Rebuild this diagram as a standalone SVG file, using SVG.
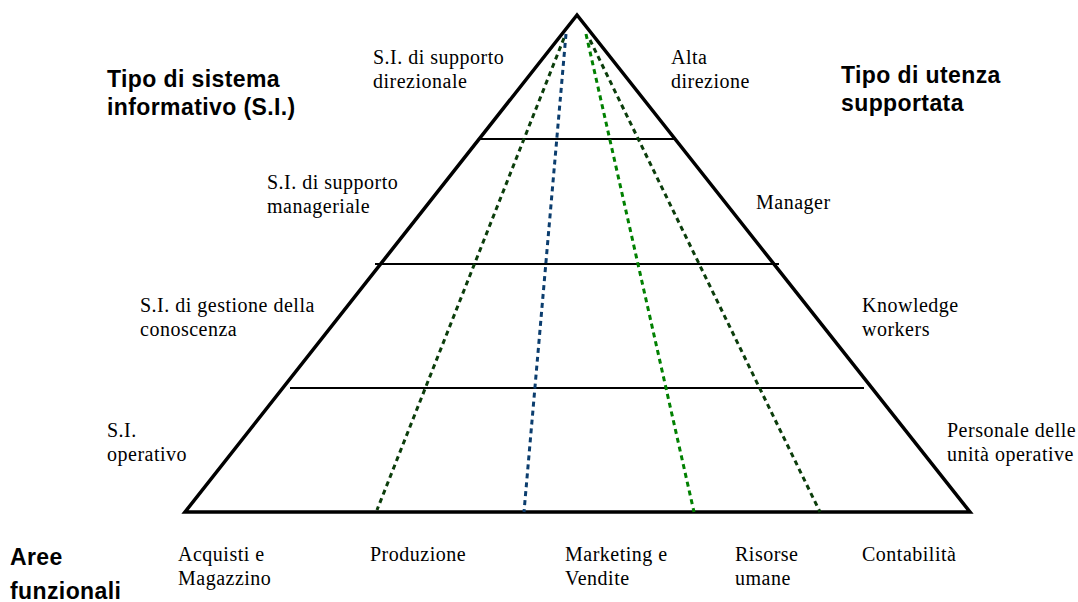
<svg xmlns="http://www.w3.org/2000/svg" width="1078" height="602" viewBox="0 0 1078 602">
<style>
.s{font-family:"Liberation Serif",serif;font-size:20px;letter-spacing:0.5px;fill:#000}
.b{font-family:"Liberation Sans",Arial,sans-serif;font-size:23px;letter-spacing:0.4px;font-weight:bold;fill:#000}
.lvl{stroke:#000;stroke-width:2}
.d{stroke-width:3;stroke-dasharray:5 4;fill:none}
</style>
<rect width="1078" height="602" fill="#fff"/>
<g id="pyramid">
<polygon points="577,15 185,512 970,512" fill="none" stroke="#000" stroke-width="3.5" stroke-linejoin="miter"/>
<line class="lvl" x1="480" y1="139" x2="674" y2="139"/>
<line class="lvl" x1="375" y1="264" x2="779" y2="264"/>
<line class="lvl" x1="290" y1="388" x2="864" y2="388"/>
</g>
<g id="connectors">
<line class="d" x1="564" y1="38" x2="377" y2="510" stroke="#0b3d0b"/>
<line class="d" x1="566" y1="34" x2="524" y2="512" stroke="#0b3d6e"/>
<line class="d" x1="586" y1="34" x2="694" y2="512" stroke="#008000"/>
<line class="d" x1="590" y1="40" x2="820" y2="512" stroke="#0b3d0b"/>
</g>
<g id="headers">
<text class="b" x="107" y="87">Tipo di sistema</text>
<text class="b" x="107" y="115">informativo (S.I.)</text>
<text class="b" x="841" y="83">Tipo di utenza</text>
<text class="b" x="841" y="111">supportata</text>
<text class="b" x="10" y="565">Aree</text>
<text class="b" x="10" y="599">funzionali</text>
</g>
<g id="si-labels">
<text class="s" x="373" y="64">S.I. di supporto</text>
<text class="s" x="373" y="88">direzionale</text>
<text class="s" x="267" y="189">S.I. di supporto</text>
<text class="s" x="267" y="213">manageriale</text>
<text class="s" x="140" y="312">S.I. di gestione della</text>
<text class="s" x="140" y="336">conoscenza</text>
<text class="s" x="107" y="437">S.I.</text>
<text class="s" x="107" y="461">operativo</text>
</g>
<g id="user-labels">
<text class="s" x="671" y="64">Alta</text>
<text class="s" x="671" y="88">direzione</text>
<text class="s" x="756" y="209">Manager</text>
<text class="s" x="862" y="312">Knowledge</text>
<text class="s" x="862" y="336">workers</text>
<text class="s" x="947" y="437">Personale delle</text>
<text class="s" x="947" y="461">unità operative</text>
</g>
<g id="area-labels">
<text class="s" x="178" y="561">Acquisti e</text>
<text class="s" x="178" y="585">Magazzino</text>
<text class="s" x="370" y="561">Produzione</text>
<text class="s" x="565" y="561">Marketing e</text>
<text class="s" x="565" y="585">Vendite</text>
<text class="s" x="735" y="561">Risorse</text>
<text class="s" x="735" y="585">umane</text>
<text class="s" x="862" y="561">Contabilità</text>
</g>
</svg>
